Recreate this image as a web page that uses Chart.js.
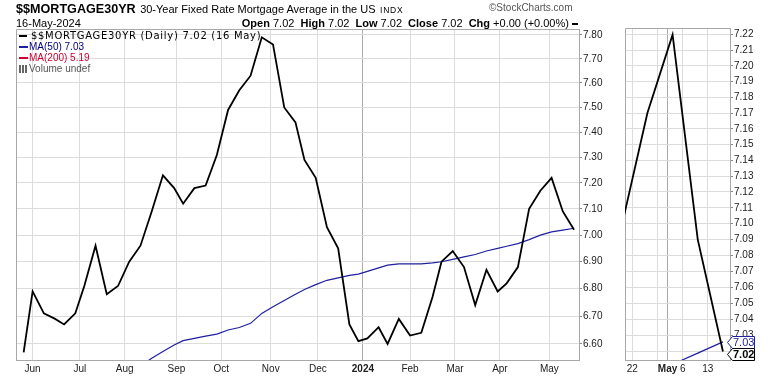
<!DOCTYPE html>
<html>
<head>
<meta charset="utf-8">
<script src="https://cdn.jsdelivr.net/npm/chart.js@4.4.1/dist/chart.umd.min.js"></script>
<style>
  body { margin: 0; background: #fff; }
  #wrap { position: relative; width: 770px; height: 376px; overflow: hidden; font-family: "Liberation Sans", Arial, sans-serif; color: #000; }
  .t { position: absolute; white-space: pre; line-height: 12px; }
  .leg { font-size: 10px; }
  .sw { display: inline-block; vertical-align: middle; margin-right: 2px; }
  #main { position: absolute; left: 0; top: 0; }
  #zoom { position: absolute; left: 620px; top: 0; }
</style>
</head>
<body>
<div id="wrap">
  <canvas id="main" width="620" height="376"></canvas>
  <canvas id="zoom" width="150" height="376"></canvas>

  <div class="t" style="left:16px; top:2px;"><b style="font-size:12.6px">$$MORTGAGE30YR</b> <span style="font-size:11px">30-Year Fixed Rate Mortgage Average in the US</span> <span style="font-size:8.5px; letter-spacing:0.8px">INDX</span></div>
  <div class="t" style="left:489px; top:2px; font-size:10px; color:#555;">©StockCharts.com</div>
  <div class="t" style="left:16px; top:17px; font-size:11px;">16-May-2024</div>
  <div class="t" style="right:192px; top:17px; font-size:11px;"><b>Open</b> 7.02  <b>High</b> 7.02  <b>Low</b> 7.02  <b>Close</b> 7.02  <b>Chg</b> +0.00 (+0.00%) <span class="sw" style="width:6px;height:2px;background:#000;margin:0"></span></div>

  <div class="t leg" style="left:19px; top:30px; font-family:'DejaVu Sans'; font-size:10px; letter-spacing:0.7px;"><span class="sw" style="width:8px;height:2px;background:#000;margin-right:4px"></span>$$MORTGAGE30YR (Daily) 7.02 (16 May)</div>
  <div class="t leg" style="left:19px; top:41px; color:#000080;"><span class="sw" style="width:9px;height:2px;background:#1f1fa0;margin-right:1px"></span>MA(50) 7.03</div>
  <div class="t leg" style="left:19px; top:52px; color:#cc0033;"><span class="sw" style="width:9px;height:2px;background:#cc0033;margin-right:1px"></span>MA(200) 5.19</div>
  <div class="t leg" style="left:19px; top:63px; color:#555;"><span class="sw" style="width:9px;height:8px;margin-right:1px;background:linear-gradient(90deg,#666 0 2px,transparent 2px 3px,#666 3px 5px,transparent 5px 6px,#666 6px 8px,transparent 8px)"></span>Volume undef</div>
</div>

<script>
// weekly 30-year fixed rate (Freddie Mac PMMS)
const dates = ['2023-05-25', '2023-06-01', '2023-06-08', '2023-06-15', '2023-06-22', '2023-06-29',
  '2023-07-06', '2023-07-13', '2023-07-20', '2023-07-27', '2023-08-03', '2023-08-10',
  '2023-08-17', '2023-08-24', '2023-08-31', '2023-09-07', '2023-09-14', '2023-09-21',
  '2023-09-28', '2023-10-05', '2023-10-12', '2023-10-19', '2023-10-26', '2023-11-02',
  '2023-11-09', '2023-11-16', '2023-11-22', '2023-11-30', '2023-12-07', '2023-12-14',
  '2023-12-21', '2023-12-28', '2024-01-04', '2024-01-11', '2024-01-18', '2024-01-25',
  '2024-02-01', '2024-02-08', '2024-02-15', '2024-02-22', '2024-02-29', '2024-03-07',
  '2024-03-14', '2024-03-21', '2024-03-28', '2024-04-04', '2024-04-11', '2024-04-18',
  '2024-04-25', '2024-05-02', '2024-05-09', '2024-05-16'];

const rate = [6.57, 6.79, 6.71, 6.69, 6.67, 6.71,
  6.81, 6.96, 6.78, 6.81, 6.90, 6.96,
  7.09, 7.23, 7.18, 7.12, 7.18, 7.19,
  7.31, 7.49, 7.57, 7.63, 7.79, 7.76,
  7.50, 7.44, 7.29, 7.22, 7.03, 6.95,
  6.67, 6.61, 6.62, 6.66, 6.60, 6.69,
  6.63, 6.64, 6.77, 6.90, 6.94, 6.88,
  6.74, 6.87, 6.79, 6.82, 6.88, 7.10,
  7.17, 7.22, 7.09, 7.02];

// MA(50) line, values read where it is visible
const ma50 = [null, null, null, null, null, null,
  null, null, null, null, null, 6.522,
  6.549, 6.573, 6.596, 6.612, 6.620, 6.628,
  6.635, 6.650, 6.659, 6.674, 6.710, 6.734,
  6.757, 6.780, 6.797, 6.815, 6.831, 6.840,
  6.849, 6.854, 6.864, 6.877, 6.887, 6.892,
  6.892, 6.892, 6.896, 6.900, 6.909, 6.918,
  6.927, 6.940, 6.950, 6.958, 6.968, 6.983,
  7.000, 7.012, 7.019, 7.026];

// market holidays, the x axis counts trading days only
const holidays = ['2023-05-29', '2023-06-19', '2023-07-04', '2023-09-04', '2023-11-23',
  '2023-12-25', '2024-01-01', '2024-01-15', '2024-02-19', '2024-03-29'];

// main panel: month gridlines at first trading day of the month
const monthStarts = ['2023-06-01', '2023-07-03', '2023-08-01', '2023-09-01', '2023-10-02', '2023-11-01',
  '2023-12-01', '2024-01-02', '2024-02-01', '2024-03-01', '2024-04-01', '2024-05-01'];
const monthLabels = ['Jun', 'Jul', 'Aug', 'Sep', 'Oct', 'Nov', 'Dec', '2024', 'Feb', 'Mar', 'Apr', 'May'];
const mainYTicks = [6.6, 6.7, 6.8, 6.9, 7.0, 7.1, 7.2, 7.3, 7.4, 7.5, 7.6, 7.7, 7.8];

// zoom panel (last few weeks)
const zoomTickDates = ['2024-04-22', '2024-04-29', '2024-05-01', '2024-05-06', '2024-05-13'];
const zoomTickLabels = ['22', '', 'May', '6', '13'];
const zoomYTicks = [7.02, 7.03, 7.04, 7.05, 7.06, 7.07, 7.08, 7.09, 7.10, 7.11, 7.12,
  7.13, 7.14, 7.15, 7.16, 7.17, 7.18, 7.19, 7.20, 7.21, 7.22];

const DAY = 86400000;
const base = Date.parse('2023-06-01T00:00:00Z');
const holidaySet = new Set(holidays.map(h => Date.parse(h + 'T00:00:00Z')));

function esDiaHabil(t) {
  const wd = new Date(t).getUTCDay();
  return wd !== 0 && wd !== 6 && !holidaySet.has(t);
}

function tradingIndex(dateStr) {
  const t = Date.parse(dateStr + 'T00:00:00Z');
  let n = 0;
  if (t >= base) {
    for (let d = base; d < t; d += DAY) if (esDiaHabil(d)) n++;
  } else {
    for (let d = t; d < base; d += DAY) if (esDiaHabil(d)) n--;
  }
  return n;
}

const xs = dates.map(tradingIndex);
const ratePts = xs.map((x, i) => ({ x: x, y: rate[i] }));
const maPts = xs.map((x, i) => ({ x: x, y: ma50[i] }));

const FONT = '"Liberation Sans", Arial, sans-serif';
const GRID = '#dcdcdc';
const FRAME = '#a8a8a8';

// borde gris alrededor del area de trazado
const marco = {
  id: 'marco',
  beforeDatasetsDraw(chart) {
    const a = chart.chartArea;
    const ctx = chart.ctx;
    ctx.save();
    ctx.strokeStyle = FRAME;
    ctx.lineWidth = 1;
    ctx.beginPath();
    ctx.moveTo(Math.round(a.left) + 0.5, Math.round(a.bottom));
    ctx.lineTo(Math.round(a.left) + 0.5, Math.round(a.top) + 0.5);
    ctx.lineTo(Math.round(a.right), Math.round(a.top) + 0.5);
    ctx.stroke();
    ctx.restore();
  }
};

// etiquetas con recuadro en el eje derecho del panel pequeño
const etiquetas = {
  id: 'etiquetas',
  afterDraw(chart) {
    const y = chart.scales.y;
    const ctx = chart.ctx;
    const x0 = Math.round(chart.chartArea.right) - 3;
    const items = [
      { v: ma50[ma50.length - 1], color: '#1f1fa0', text: ma50[ma50.length - 1].toFixed(2), bold: false },
      { v: rate[rate.length - 1], color: '#000', text: rate[rate.length - 1].toFixed(2), bold: true }
    ];
    let prevBottom = -Infinity;
    items.forEach(it => {
      let cy = Math.round(y.getPixelForValue(it.v));
      if (cy - 6 < prevBottom) cy = prevBottom + 6;
      prevBottom = cy + 6;
      const x1 = x0 + 27;
      ctx.save();
      ctx.beginPath();
      ctx.moveTo(x0 + 0.5, cy + 0.5);
      ctx.lineTo(x0 + 5.5, cy - 5.5);
      ctx.lineTo(x1 + 0.5, cy - 5.5);
      ctx.lineTo(x1 + 0.5, cy + 6.5);
      ctx.lineTo(x0 + 5.5, cy + 6.5);
      ctx.closePath();
      ctx.fillStyle = '#fff';
      ctx.fill();
      ctx.strokeStyle = it.color;
      ctx.lineWidth = 1;
      ctx.stroke();
      ctx.fillStyle = it.color;
      ctx.font = (it.bold ? 'bold ' : '') + '11px ' + FONT;
      ctx.textBaseline = 'middle';
      ctx.textAlign = 'left';
      ctx.fillText(it.text, x0 + 6, cy + 1);
      ctx.restore();
    });
  }
};

function crearPanel(idCanvas, opts) {
  const ctx = document.getElementById(idCanvas).getContext('2d');
  return new Chart(ctx, {
    type: 'line',
    data: {
      datasets: [
        { data: ratePts, borderColor: '#000', borderWidth: 1.8, pointRadius: 0, tension: 0, spanGaps: false },
        { data: maPts, borderColor: '#1f1fa0', borderWidth: 1.2, pointRadius: 0, tension: 0, spanGaps: false }
      ]
    },
    options: {
      responsive: false,
      animation: false,
      events: [],
      layout: { padding: { left: opts.padLeft, top: opts.padTop, right: 0, bottom: 0 } },
      plugins: { legend: { display: false }, tooltip: { enabled: false } },
      scales: {
        x: {
          type: 'linear',
          bounds: 'data',
          min: opts.xMin,
          max: opts.xMax,
          afterBuildTicks: (s) => { s.ticks = opts.xTicks.map(v => ({ value: v })); },
          afterFit: (s) => { s.height = 16; s.paddingLeft = 0; s.paddingRight = 0; },
          grid: {
            color: (c) => (c.tick && opts.isMajor(c.index)) ? '#ababab' : GRID,
            drawTicks: false
          },
          border: { color: FRAME },
          ticks: {
            autoSkip: false,
            maxRotation: 0,
            minRotation: 0,
            padding: 3,
            color: '#222',
            font: (c) => ({ family: FONT, size: 10, weight: opts.isMajor(c.index) ? 'bold' : 'normal' }),
            callback: (v, i) => opts.xLabels[i]
          }
        },
        y: {
          type: 'logarithmic',
          position: 'right',
          bounds: 'data',
          min: opts.yMin,
          max: opts.yMax,
          afterBuildTicks: (s) => { s.ticks = opts.yTicks.map(v => ({ value: v })); },
          afterFit: (s) => { s.width = opts.yWidth; s.paddingTop = 0; s.paddingBottom = 0; },
          grid: { color: GRID, tickColor: '#888', tickLength: 3 },
          border: { color: FRAME },
          ticks: {
            padding: 1,
            color: '#222',
            font: { family: FONT, size: 10 },
            callback: (v) => Number(v).toFixed(2)
          }
        }
      }
    },
    plugins: opts.plugins
  });
}

crearPanel('main', {
  padLeft: 16, padTop: 29,
  xMin: -7.4, xMax: 243.2,
  xTicks: monthStarts.map(tradingIndex), xLabels: monthLabels,
  isMajor: (i) => /^\d{4}$/.test(monthLabels[i] || ''),
  yMin: 6.543, yMax: 7.825, yTicks: mainYTicks, yWidth: 41,
  plugins: [marco]
});

crearPanel('zoom', {
  padLeft: 5, padTop: 28,
  xMin: 221.55, xMax: 242.4,
  xTicks: zoomTickDates.map(tradingIndex), xLabels: zoomTickLabels,
  isMajor: (i) => /^[A-Za-z]+$/.test(zoomTickLabels[i] || ''),
  yMin: 7.0147, yMax: 7.2243, yTicks: zoomYTicks, yWidth: 40,
  plugins: [marco, etiquetas]
});
</script>
</body>
</html>
